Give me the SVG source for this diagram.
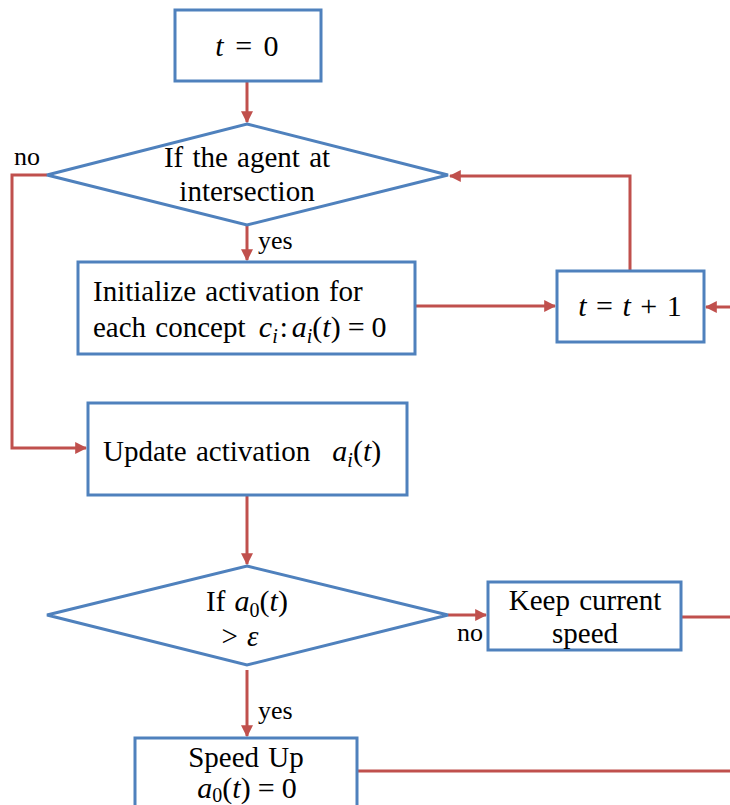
<svg xmlns="http://www.w3.org/2000/svg" width="730" height="805" viewBox="0 0 730 805">
  <style>
    .box { fill: #ffffff; stroke: #4F81BD; stroke-width: 3; }
    .link { fill: none; stroke: #C0504D; stroke-width: 3; }
    text { font-family: "Times New Roman", "Liberation Serif", "DejaVu Serif", serif; fill: #000000; }
    .txt { font-size: 29px; word-spacing: 2px; }
    .lbl { font-size: 26px; }
    .m { font-size: 30px; word-spacing: 4px; }
    .i { font-style: italic; }
    .sub { font-size: 20px; }
  </style>
  <defs>
    <marker id="arrow" viewBox="0 0 10 10" refX="9" refY="5" markerWidth="4" markerHeight="4" orient="auto" markerUnits="strokeWidth">
      <path d="M0,0 L10,5 L0,10 z" fill="#C0504D"/>
    </marker>
  </defs>

  <!-- connectors -->
  <g id="connectors">
    <path class="link" d="M247,81 L247,122" marker-end="url(#arrow)"/>
    <path class="link" d="M47,175 L12,175 L12,448 L86,448" marker-end="url(#arrow)"/>
    <path class="link" d="M247,225 L247,260" marker-end="url(#arrow)"/>
    <path class="link" d="M415,306 L555,306" marker-end="url(#arrow)"/>
    <path class="link" d="M630,271 L630,176 L450,176" marker-end="url(#arrow)"/>
    <path class="link" d="M730,307 L706,307" marker-end="url(#arrow)"/>
    <path class="link" d="M247,495 L247,564" marker-end="url(#arrow)"/>
    <path class="link" d="M448,615 L486,615" marker-end="url(#arrow)"/>
    <path class="link" d="M681,617 L730,617"/>
    <path class="link" d="M247,670 L247,736" marker-end="url(#arrow)"/>
    <path class="link" d="M357,771 L730,771"/>
    <text class="lbl" x="14" y="165">no</text>
    <text class="lbl" x="258" y="249">yes</text>
    <text class="lbl" x="457" y="641">no</text>
    <text class="lbl" x="258" y="719">yes</text>
  </g>

  <g id="start">
    <rect class="box" x="175" y="10" width="146" height="71"/>
    <text class="m" x="247" y="56" text-anchor="middle"><tspan class="i">t</tspan> = 0</text>
  </g>

  <g id="at-intersection">
    <polygon class="box" points="247,124 448,175 247,225 47,175"/>
    <text class="txt" x="247" y="167" text-anchor="middle">If the agent at</text>
    <text class="txt" x="247" y="201" text-anchor="middle">intersection</text>
  </g>

  <g id="initialize">
    <rect class="box" x="78" y="262" width="337" height="92"/>
    <text class="txt" x="93" y="301">Initialize activation for</text>
    <text class="txt" x="93" y="337">each concept <tspan class="i" dx="4" font-size="30">c</tspan><tspan class="i sub" dy="6">i</tspan><tspan dy="-6" dx="2">:</tspan><tspan class="i" dx="4" font-size="30">a</tspan><tspan class="i sub" dy="6">i</tspan><tspan dy="-6" font-size="30">(</tspan><tspan class="i" font-size="30">t</tspan><tspan font-size="30">)</tspan><tspan font-size="30" dx="7">=</tspan><tspan font-size="30" dx="7">0</tspan></text>
  </g>

  <g id="increment">
    <rect class="box" x="557" y="271" width="147" height="71"/>
    <text class="m" x="630" y="316" text-anchor="middle" style="word-spacing:2px"><tspan class="i">t</tspan> = <tspan class="i">t</tspan> + 1</text>
  </g>

  <g id="update">
    <rect class="box" x="88" y="403" width="319" height="92"/>
    <text class="txt" x="103" y="461">Update activation<tspan class="i" dx="22" font-size="30">a</tspan><tspan class="i sub" dy="6">i</tspan><tspan dy="-6" font-size="30">(</tspan><tspan class="i" font-size="30">t</tspan><tspan font-size="30">)</tspan></text>
  </g>

  <g id="threshold">
    <polygon class="box" points="247,566 448,615 247,665 47,615"/>
    <text class="txt" x="247" y="611" text-anchor="middle">If <tspan class="i" font-size="30">a</tspan><tspan class="sub" dy="6">0</tspan><tspan dy="-6" font-size="30">(</tspan><tspan class="i" font-size="30">t</tspan><tspan font-size="30">)</tspan></text>
    <text class="txt" x="240" y="646" text-anchor="middle">&gt; <tspan class="i">ε</tspan></text>
  </g>

  <g id="keep-speed">
    <rect class="box" x="488" y="582" width="193" height="68"/>
    <text class="txt" x="585" y="610" text-anchor="middle">Keep current</text>
    <text class="txt" x="585" y="643" text-anchor="middle">speed</text>
  </g>

  <g id="speed-up">
    <rect class="box" x="135" y="738" width="222" height="80"/>
    <text class="txt" x="246" y="767" text-anchor="middle">Speed Up</text>
    <text class="txt" x="247" y="798" text-anchor="middle"><tspan class="i" font-size="30">a</tspan><tspan class="sub" dy="4">0</tspan><tspan dy="-4" font-size="30">(</tspan><tspan class="i" font-size="30">t</tspan><tspan font-size="30">)</tspan><tspan font-size="30" dx="7">=</tspan><tspan font-size="30" dx="7">0</tspan></text>
  </g>
</svg>
